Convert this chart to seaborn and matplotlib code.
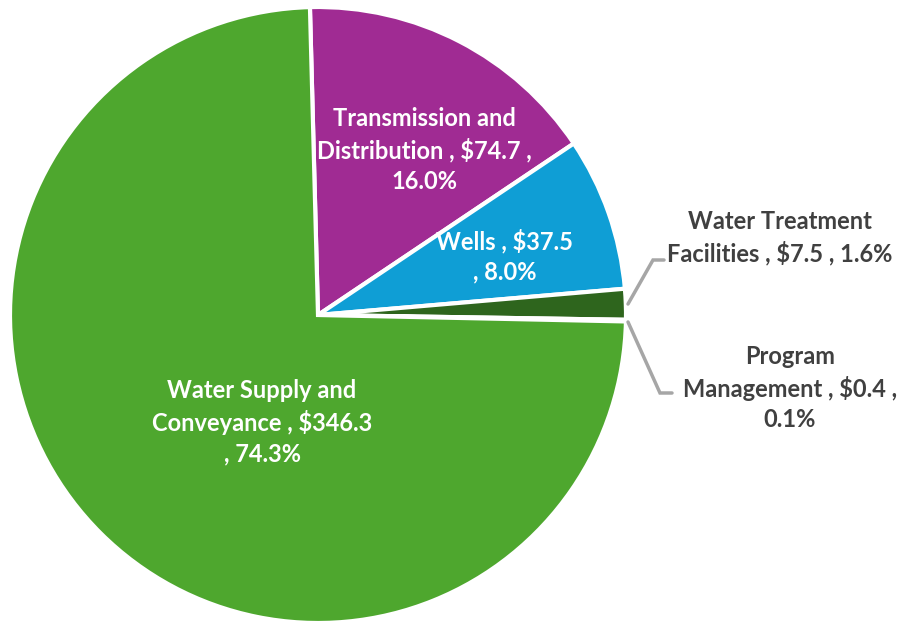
import matplotlib
matplotlib.use("Agg")
import matplotlib.pyplot as plt
import seaborn as sns

categories = ["Transmission and Distribution", "Wells", "Water Treatment Facilities",
              "Program Management", "Water Supply and Conveyance"]
values = [74.7, 37.5, 7.5, 0.4, 346.3]
percents = [16.0, 8.0, 1.6, 0.1, 74.3]
colors = ["#A02B93", "#0F9ED5", "#2E651D", "#2E651D", "#4EA72E"]

sns.set_theme(style="white")
plt.rcParams['font.family'] = ['Lato', 'DejaVu Sans']

W, H = 905, 621
fig = plt.figure(figsize=(W / 100, H / 100), dpi=100)
cx, cy, R = 318, 315, 308
ax = fig.add_axes([(cx - R) / W, (H - cy - R) / H, 2 * R / W, 2 * R / H])

ax.pie(values, colors=colors, startangle=91.5, counterclock=False, radius=1,
       wedgeprops=dict(edgecolor='white', linewidth=3))
ax.set_xlim(-1, 1)
ax.set_ylim(-1, 1)
ax.set_aspect('equal')
ax.axis('off')

def d(px, py):
    return ((px - cx) / R, (cy - py) / R)

fs = 17
inside = [
    ("Transmission and\nDistribution , $74.7 ,\n16.0%", (424, 150)),
    ("Wells , $37.5\n, 8.0%", (505, 256)),
    ("Water Supply and\nConveyance , $346.3\n, 74.3%", (262, 422)),
]
for txt, (px, py) in inside:
    ax.text(*d(px, py), txt, ha='center', va='center', color='white',
            fontsize=fs, fontweight='bold', linespacing=1.38)

outside = [
    ("Water Treatment\nFacilities , $7.5 , 1.6%", (780, 238)),
    ("Program\nManagement , $0.4 ,\n0.1%", (790, 388)),
]
for txt, (px, py) in outside:
    ax.text(*d(px, py), txt, ha='center', va='center', color='#404040',
            fontsize=fs, fontweight='bold', linespacing=1.38, clip_on=False)

lc = '#A6A6A6'
for pts in ([(628, 304), (653, 260), (664, 260)], [(628, 322), (660, 393), (672, 393)]):
    xs, ys = zip(*[d(*p) for p in pts])
    ax.plot(xs, ys, color=lc, lw=2.5, clip_on=False, solid_joinstyle='miter')

fig.savefig("out.png", dpi=100)
